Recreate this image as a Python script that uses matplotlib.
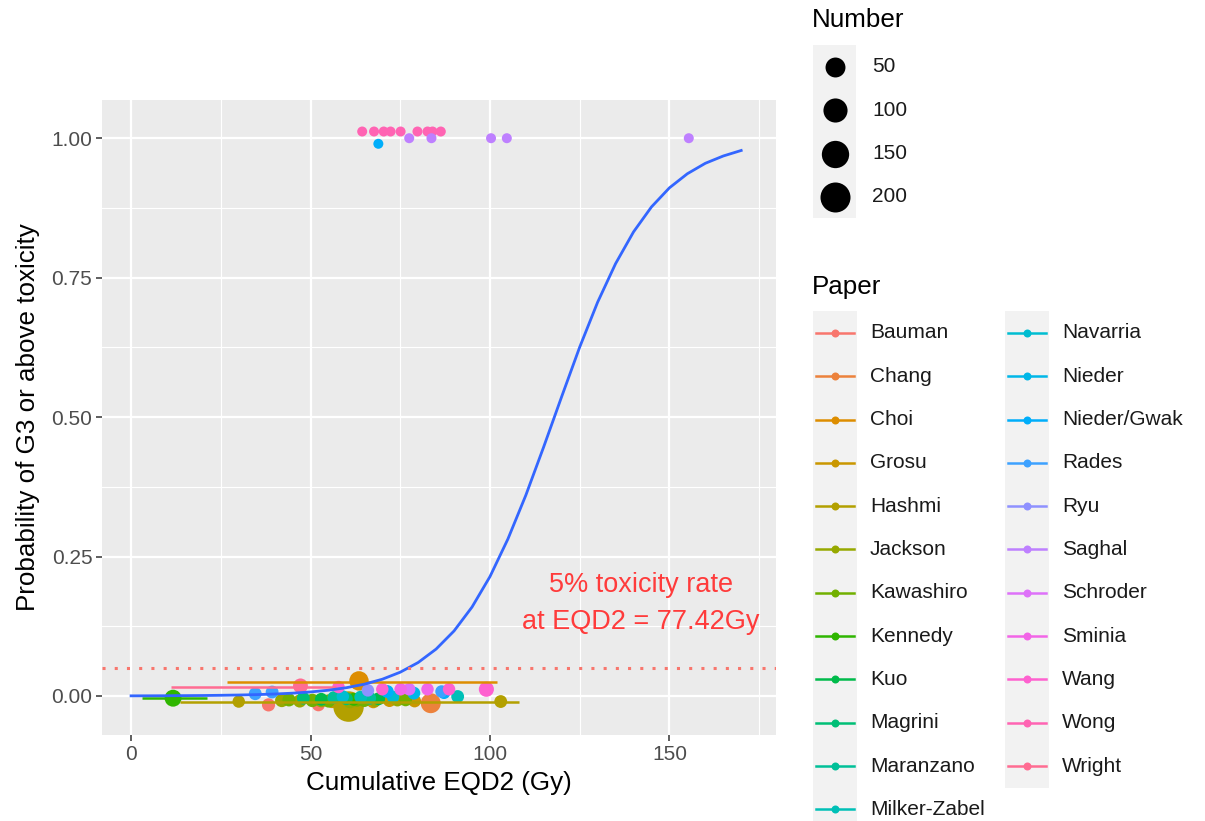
import numpy as np
import matplotlib.pyplot as plt
from matplotlib.patches import Rectangle

plt.rcParams['font.family'] = ['Liberation Sans', 'DejaVu Sans']

# --- Data ---
papers = ["Bauman", "Chang", "Choi", "Grosu", "Hashmi", "Jackson", "Kawashiro",
          "Kennedy", "Kuo", "Magrini", "Maranzano", "Milker-Zabel", "Navarria",
          "Nieder", "Nieder/Gwak", "Rades", "Ryu", "Saghal", "Schroder", "Sminia",
          "Wang", "Wong", "Wright"]

# logistic fit, predicted probability along cumulative EQD2
curve_dose = [0, 5, 10, 15, 20, 25, 30, 35, 40, 45, 50, 55, 60, 65, 70, 75, 80, 85,
              90, 95, 100, 105, 110, 115, 120, 125, 130, 135, 140, 145, 150, 155,
              160, 165, 170]
curve_prob = [0.0002, 0.0003, 0.0004, 0.0006, 0.0008, 0.0012, 0.0017, 0.0024,
              0.0035, 0.0050, 0.0072, 0.0103, 0.0148, 0.0211, 0.0300, 0.0426,
              0.0600, 0.0841, 0.1166, 0.1594, 0.2140, 0.2814, 0.3600, 0.4471,
              0.5370, 0.6254, 0.7060, 0.7751, 0.8320, 0.8768, 0.9110, 0.9363,
              0.9550, 0.9681, 0.9780]

pt_paper = ["Wong"] * 9 + ["Saghal"] * 5 + ["Nieder/Gwak",
            "Bauman", "Bauman", "Chang", "Choi",
            "Grosu", "Grosu", "Grosu", "Grosu",
            "Hashmi", "Hashmi", "Hashmi",
            "Jackson", "Jackson", "Jackson", "Jackson", "Jackson", "Jackson",
            "Kawashiro", "Kawashiro", "Kawashiro", "Kawashiro", "Kawashiro", "Kawashiro",
            "Kennedy", "Kennedy",
            "Kuo", "Kuo", "Magrini", "Magrini", "Maranzano", "Maranzano",
            "Milker-Zabel", "Milker-Zabel", "Navarria", "Navarria", "Nieder",
            "Nieder/Gwak", "Nieder/Gwak", "Rades", "Rades", "Rades", "Ryu",
            "Schroder", "Sminia", "Sminia", "Wang", "Wang", "Wang", "Wang", "Wright"]
pt_dose = [64.4, 67.7, 70.4, 72.3, 75.1, 79.8, 82.6, 84.0, 86.3,
           77.5, 83.7, 100.3, 104.7, 155.4, 68.9,
           38.3, 52.2, 83.5, 63.5,
           56.0, 67.5, 72.0, 79.0,
           60.6, 30.0, 103.0,
           42.0, 47.0, 53.0, 61.0, 68.0, 74.2,
           44.0, 50.5, 55.0, 63.0, 65.0, 76.5,
           11.7, 62.0,
           53.0, 69.0, 48.0, 60.0, 56.5, 66.5,
           64.0, 91.0, 59.0, 73.0, 78.8,
           71.4, 87.2, 34.6, 39.3, 86.5, 66.0,
           77.5, 75.1, 82.6, 57.8, 70.0, 88.6, 99.0, 47.2]
pt_prob = [1.012] * 9 + [1.0] * 5 + [0.99,
           -0.016, -0.016, -0.013, 0.027,
           -0.010, -0.010, -0.008, -0.009,
           -0.019, -0.010, -0.010,
           -0.008, -0.009, -0.008, -0.010, -0.008, -0.007,
           -0.007, -0.008, -0.009, -0.007, -0.008, -0.007,
           -0.004, -0.006,
           -0.006, -0.005, -0.004, -0.005, -0.003, -0.004,
           -0.002, -0.001, -0.001, -0.002, 0.005,
           0.008, 0.006, 0.004, 0.007, 0.008, 0.010,
           0.012, 0.012, 0.012, 0.016, 0.012, 0.012, 0.012, 0.018]
pt_number = [1] * 9 + [1] * 5 + [1,
             6, 5, 50, 45,
             6, 7, 6, 5,
             210, 4, 5,
             7, 6, 8, 7, 6, 6,
             6, 7, 6, 7, 6, 5,
             25, 5,
             5, 5, 5, 5, 5, 5,
             5, 5, 4, 4, 5,
             5, 5, 5, 5, 4, 4,
             4, 4, 4, 4, 4, 4, 14, 13]

# horizontal dose ranges
eb_paper = ["Kennedy", "Hashmi", "Choi", "Wright"]
eb_prob = [-0.004, -0.010, 0.025, 0.016]
eb_lo = [3.0, 13.7, 26.7, 11.2]
eb_hi = [21.1, 108.0, 102.0, 57.0]

size_breaks = [50, 100, 150, 200]
threshold = 0.05
ed5 = 77.42


# --- Helpers ---
def hcl_to_hex(h, c=100.0, l=65.0):
    hr = np.deg2rad(h)
    u, v = c * np.cos(hr), c * np.sin(hr)
    xn, yn, zn = 95.047, 100.0, 108.883
    y = yn * ((l + 16) / 116) ** 3 if l > 8 else yn * l / 903.3
    un = 4 * xn / (xn + 15 * yn + 3 * zn)
    vn = 9 * yn / (xn + 15 * yn + 3 * zn)
    up = u / (13 * l) + un
    vp = v / (13 * l) + vn
    x = y * 9 * up / (4 * vp)
    z = y * (12 - 3 * up - 20 * vp) / (4 * vp)
    xyz = np.array([x, y, z]) / 100
    m = np.array([[3.2404542, -1.5371385, -0.4985314],
                  [-0.9692660, 1.8760108, 0.0415560],
                  [0.0556434, -0.2040259, 1.0572252]])
    rgb = m @ xyz
    rgb = np.where(rgb <= 0.0031308, 12.92 * rgb, 1.055 * np.power(np.clip(rgb, 0, None), 1 / 2.4) - 0.055)
    rgb = np.clip(rgb, 0, 1)
    return '#%02x%02x%02x' % tuple(int(round(c_ * 255)) for c_ in rgb)


n_pap = len(papers)
hues = np.linspace(15, 375, n_pap + 1)[:-1]
pal = {p: hcl_to_hex(h) for p, h in zip(papers, hues)}

n_min, n_max = min(pt_number), max(pt_number)


def point_area(n):
    # area-scaled size (1..6), converted to scatter area in pt^2
    size = 1 + 5 * np.sqrt((np.asarray(n, float) - n_min) / (n_max - n_min))
    diam_px = 4.1 * size + 5.9
    return (diam_px * 72 / 100) ** 2


# --- Plot ---
fig = plt.figure(figsize=(12.05, 8.21), dpi=100)

lax = fig.add_axes([0, 0, 1, 1])
lax.set_xlim(0, 1205)
lax.set_ylim(821, 0)
lax.axis('off')

ax = fig.add_axes([102 / 1205, 1 - 735 / 821, 674 / 1205, 635 / 821])
ax.set_facecolor('#EBEBEB')
for s in ax.spines.values():
    s.set_visible(False)

ax.scatter(pt_dose, pt_prob, s=point_area(pt_number),
           c=[pal[p] for p in pt_paper], linewidths=0, zorder=3)
ax.hlines(eb_prob, eb_lo, eb_hi, colors=[pal[p] for p in eb_paper], lw=1.8, zorder=4)
ax.plot(curve_dose, curve_prob, color='#3366FF', lw=2.0, zorder=5)
ax.axhline(threshold, color='#F8766D', lw=2.2, linestyle=(0, (1, 3)), zorder=5)
ax.text(142, 0.165, f"{threshold:.0%} toxicity rate\nat EQD2 = {ed5:.2f}Gy",
        color='#FF3B3B', ha='center', va='center', fontsize=19.5, linespacing=1.55,
        zorder=6)

ax.set_xlim(-8.1, 179.7)
ax.set_ylim(-0.07, 1.0685)
ax.set_xticks([0, 50, 100, 150])
ax.set_xticks([25, 75, 125, 175], minor=True)
ax.set_yticks([0, 0.25, 0.5, 0.75, 1.0])
ax.set_yticklabels(["0.00", "0.25", "0.50", "0.75", "1.00"])
ax.set_yticks([0.125, 0.375, 0.625, 0.875], minor=True)
ax.grid(which='major', color='white', lw=1.6)
ax.grid(which='minor', color='white', lw=0.8)
ax.set_axisbelow(True)
ax.tick_params(which='major', length=4, width=1.1, color='#333333',
               labelcolor='#4D4D4D', labelsize=15, pad=3)
ax.tick_params(which='minor', length=0)
ax.set_xlabel("Cumulative EQD2 (Gy)", fontsize=18.7, labelpad=5)
ax.set_ylabel("Probability of G3 or above toxicity", fontsize=18.7, labelpad=8)

# size legend
lax.text(812, 20, "Number", fontsize=18.7, va='center', ha='left')
lax.add_patch(Rectangle((813, 45), 43, 43.3 * len(size_breaks), color='#F2F2F2', lw=0))
for i, b in enumerate(size_breaks):
    yc = 67 + 43.3 * i
    lax.scatter([835], [yc], s=point_area([b]), color='black', linewidths=0)
    lax.text(872, yc, str(b), fontsize=15, va='center', ha='left', color='#1A1A1A')

# colour legend, two columns
lax.text(812, 287, "Paper", fontsize=18.7, va='center', ha='left')
rows = 12
for col in range(2):
    names = papers[col * rows:(col + 1) * rows]
    x0 = 813 if col == 0 else 1005
    lax.add_patch(Rectangle((x0, 311.5), 44, 43.3 * len(names), color='#F2F2F2', lw=0))
    for j, name in enumerate(names):
        yc = 333 + 43.3 * j
        lax.plot([x0 + 3, x0 + 41], [yc, yc], color=pal[name], lw=1.8)
        lax.scatter([x0 + 22], [yc], s=(8 * 0.72) ** 2, color=pal[name], linewidths=0, zorder=3)
        lax.text(x0 + 57, yc, name, fontsize=15, va='center', ha='left', color='#1A1A1A')

fig.savefig("out.png", dpi=100)
